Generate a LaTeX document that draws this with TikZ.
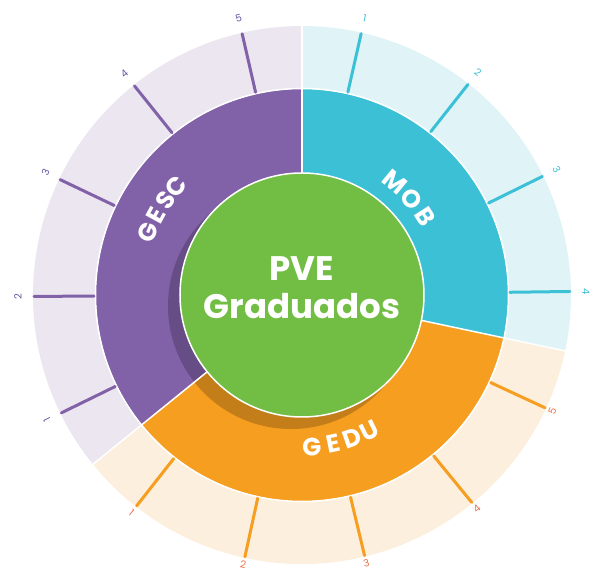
\documentclass[tikz,border=0pt]{standalone}
\usepackage{fontspec}
\setmainfont{Poppins}
\definecolor{Mob}{HTML}{3BC0D6}
\definecolor{MobLight}{HTML}{E0F4F8}
\definecolor{Gesc}{HTML}{8161A8}
\definecolor{GescLight}{HTML}{ECE6F1}
\definecolor{GescText}{HTML}{5F58A6}
\definecolor{Gedu}{HTML}{F59E20}
\definecolor{GeduLight}{HTML}{FDEFDD}
\definecolor{GeduText}{HTML}{EF6F45}
\definecolor{Pve}{HTML}{72BE44}

\begin{document}
\begin{tikzpicture}
    [x=1pt, y=1pt,
    tick/.style={line width=3pt, line cap=round},
    num/.style={font=\fontsize{10}{10}\selectfont, inner sep=0pt},
    ringletter/.style={text=white, font=\fontsize{25}{25}\selectfont\bfseries, inner sep=0pt},
    gap/.style={white, line width=1.5pt}]

    \useasboundingbox (-302,-277) rectangle (293,295);

    % outer ring
    \foreach \a/\b/\c in {-12/90/MobLight, 90/219/GescLight, 219/348/GeduLight}
        \fill[\c] (\a:206) arc[start angle=\a, end angle=\b, radius=206]
            -- (\b:269) arc[start angle=\b, end angle=\a, radius=269] -- cycle;

    % inner ring
    \foreach \a/\b/\c in {-12/90/Mob, 90/219/Gesc, 219/348/Gedu}
        \fill[\c] (0,0) -- (\a:206) arc[start angle=\a, end angle=\b, radius=206] -- cycle;

    \begin{scope}
        \clip (0,0) circle[radius=206];
        \fill[black, opacity=.2] (-11,-11) circle[radius=123];
    \end{scope}

    \draw[gap] (0,0) circle[radius=206.5];
    \foreach \a in {-12,90,219}
        \draw[gap] (\a:122) -- (\a:270);

    \node[circle, fill=Pve, draw=white, line width=1.5pt, minimum size=244pt, inner sep=0pt] (pve) at (0,0) {};
    \node[text=white, align=center, font=\fontsize{34}{38}\selectfont\bfseries] (pve-text) at (0,7) {PVE\\Graduados};

    % ticks and numbers
    \foreach \i in {1,...,4} {
        \pgfmathsetmacro\t{90-(\i-0.5)*25.5}
        \draw[tick, Mob] (\t:208) -- (\t:268);
        \node[num, text=Mob, rotate=\t-90] (mob-\i) at (\t:284) {\i};
    }
    \foreach \i in {1,...,5} {
        \pgfmathsetmacro\t{219-(\i-0.5)*25.8}
        \draw[tick, Gesc] (\t:208) -- (\t:268);
        \node[num, text=GescText, rotate=\t-90] (gesc-\i) at (\t:284) {\i};
    }
    \foreach \i in {1,...,5} {
        \pgfmathsetmacro\t{219+(\i-0.5)*25.8}
        \draw[tick, Gedu] (\t:208) -- (\t:268);
        \node[num, text=GeduText, rotate=\t+90] (gedu-\i) at (\t:276) {\i};
    }

    % ring words
    \foreach \l/\t in {M/50.5, O/41.3, B/32.6}
        \node[ringletter, rotate=\t-90] (mob-\l) at (\t:146) {\l};
    \foreach \l/\t [count=\k] in {G/158, E/151.4, S/145.3, C/139.4}
        \node[ringletter, rotate=\t-90] (gesc-l\k) at (\t:166) {\l};
    \foreach \l/\t [count=\k] in {G/273.7, E/281.8, D/289.3, U/296.4}
        \node[ringletter, rotate=\t+90] (gedu-l\k) at (\t:152) {\l};
\end{tikzpicture}
\end{document}
